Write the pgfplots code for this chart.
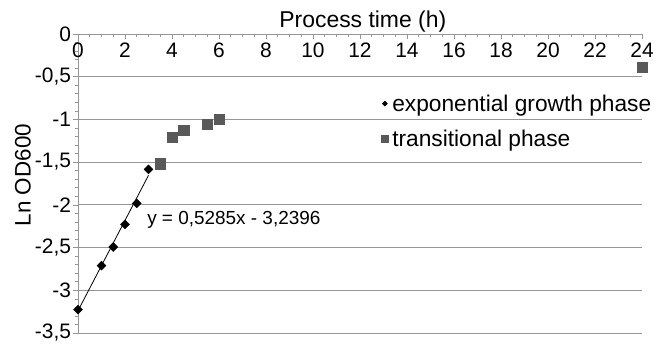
\documentclass[border=0pt]{standalone}
\usepackage{pgfplots}
\pgfplotsset{compat=1.18}
\usepackage{fontspec}
\setmainfont{Liberation Sans}
\definecolor{gridgray}{RGB}{150,150,150}
\definecolor{sqgray}{RGB}{89,89,89}
\begin{document}
\begin{tikzpicture}
\begin{axis}[
  scale only axis, width=564bp, height=299bp,
  xmin=0, xmax=24, ymin=-3.5, ymax=0,
  axis x line*=top, axis y line*=left,
  axis line style={draw=gridgray, line width=0.8bp, -},
  xtick={0,2,...,24},
  ytick={-3.5,-3,-2.5,-2,-1.5,-1,-0.5,0},
  yticklabels={{-3,5},{-3},{-2,5},{-2},{-1,5},{-1},{-0,5},{0}},
  minor x tick num=3, minor y tick num=4,
  tick align=inside,
  major tick length=5bp, minor tick length=3bp,
  tick style={draw=gridgray, line width=0.6bp},
  major y tick style={xshift=-5bp},
  minor y tick style={xshift=-3bp},
  ymajorgrids, grid style={draw=gridgray, line width=0.8bp},
  /pgf/number format/assume math mode=true,
  tick label style={font=\fontsize{21}{24}\selectfont, text=black},
  xticklabel style={anchor=north, yshift=-5.5bp},
  yticklabel style={xshift=-3.5bp},
  xlabel={Process time (h)},
  xlabel style={at={(axis description cs:0.505,1)}, anchor=south, inner sep=0pt, yshift=2bp, font=\fontsize{23}{26}\selectfont},
  ylabel={Ln OD600},
  ylabel style={at={(axis description cs:-0.0975,0.528)}, anchor=center, font=\fontsize{22.5}{25}\selectfont},
  clip=false,
  legend image code/.code={\draw[#1] plot coordinates {(0bp,0bp)};},
  legend style={draw=none, fill=none, inner sep=0pt, row sep=14bp, column sep=2.5bp,
    nodes={inner sep=1.5bp}, font=\fontsize{22.8}{25}\selectfont,
    at={(axis cs:12.9,-0.69)}, anchor=north west},
  legend cell align=left,
]
\addplot[black, line width=0.8bp, forget plot] coordinates {(0,-3.2396) (3,-1.6541)};
\addplot[only marks, mark=square*, mark size=3.2bp, mark options={rotate=45, fill=black, draw=black},
  legend image post style={mark size=1.8bp}]
  coordinates {(0,-3.226) (1,-2.712) (1.5,-2.493) (2,-2.228) (2.5,-1.982) (3,-1.584)};
\addlegendentry{exponential growth phase}
\addplot[only marks, color=sqgray, mark=square*, mark size=5.25bp, mark options={fill=sqgray, draw=none},
  legend image post style={mark size=3.5bp}]
  coordinates {(3.5,-1.52) (4,-1.21) (4.5,-1.124) (5.5,-1.058) (6,-1.0) (24,-0.39)};
\addlegendentry{transitional phase}
\node[anchor=west, inner sep=0pt, font=\fontsize{19}{22}\selectfont] at (axis cs:2.94,-2.17) {y = 0,5285x - 3,2396};
\end{axis}
\path (current axis.south west) ++(-78bp,-11bp) rectangle ++(668bp,344bp);
\end{tikzpicture}
\end{document}
